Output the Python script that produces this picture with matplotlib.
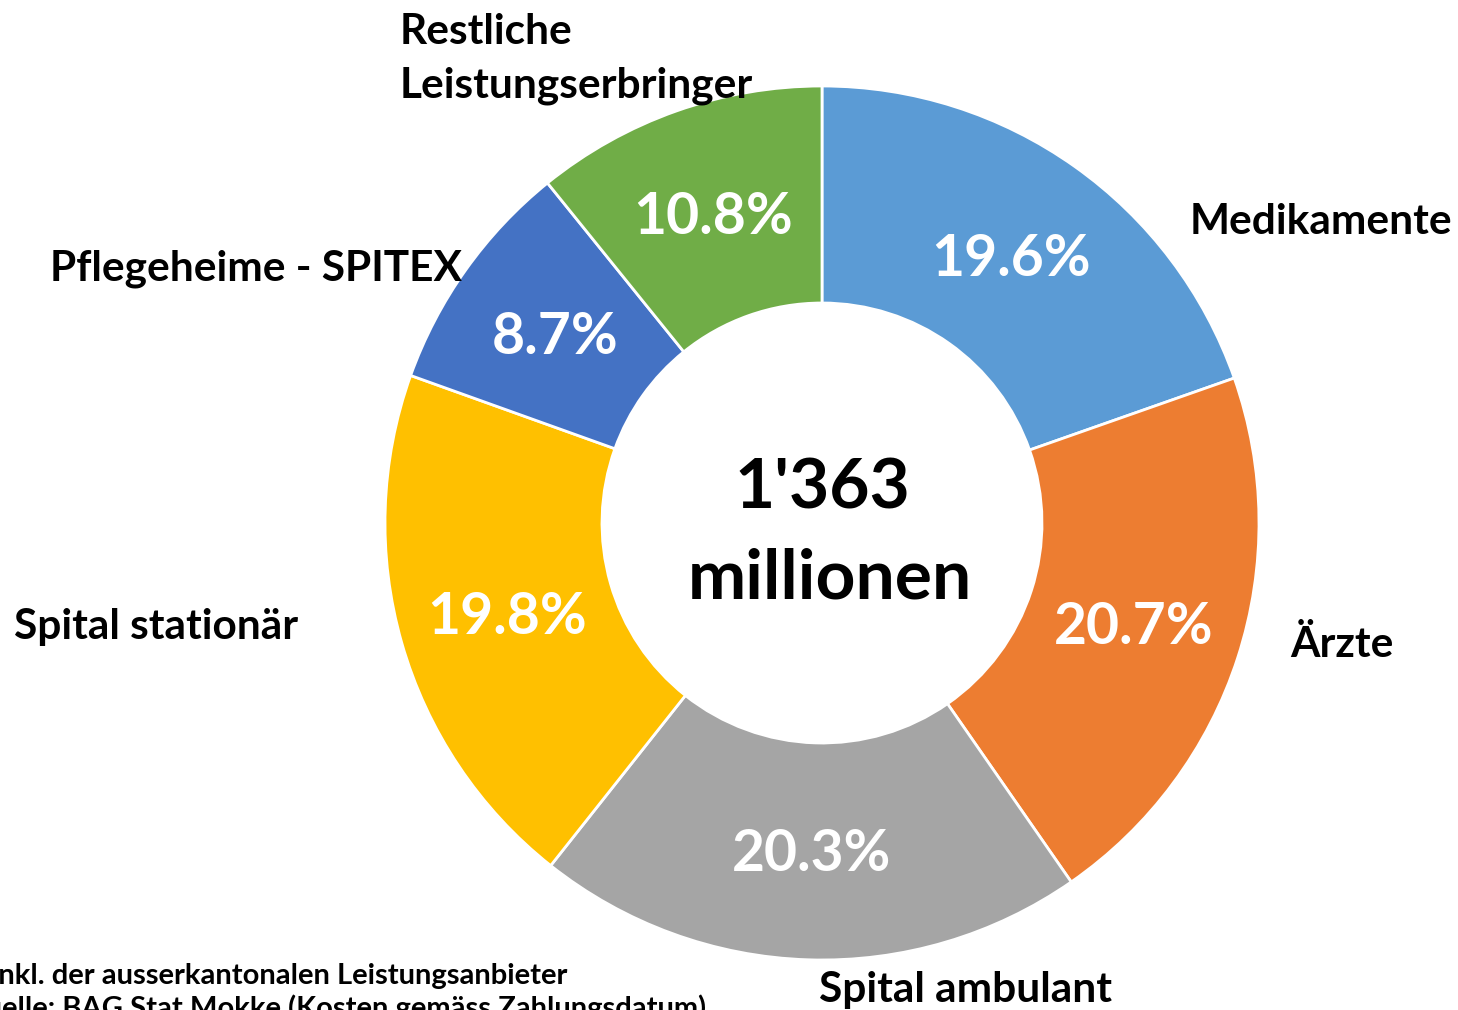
import matplotlib
matplotlib.use("Agg")
import matplotlib.pyplot as plt

categories = ["Medikamente", "Ärzte", "Spital ambulant", "Spital stationär",
              "Pflegeheime - SPITEX", "Restliche\nLeistungserbringer"]
shares = [19.6, 20.7, 20.3, 19.8, 8.7, 10.8]
colors = ["#5B9BD5", "#ED7D31", "#A5A5A5", "#FFC000", "#4472C4", "#70AD47"]
center_text = ["1'363", "millionen"]
footnotes = ["inkl. der ausserkantonalen Leistungsanbieter",
             "Quelle: BAG Stat Mokke (Kosten gemäss Zahlungsdatum)"]

FONT = "Lato"
W, H = 1458, 1010
fig = plt.figure(figsize=(W / 100, H / 100), dpi=100)
ax = fig.add_axes([0, 0, 1, 1])

cx, cy, R = 822, 487, 437
wedges, texts, autotexts = ax.pie(
    shares, colors=colors, startangle=90, counterclock=False,
    center=(cx, cy), radius=R,
    wedgeprops=dict(width=R - 220, edgecolor="white", linewidth=2),
    autopct=lambda p: f"{p:.1f}%", pctdistance=0.75,
    textprops=dict(color="white", fontsize=41, fontweight="bold", family=FONT),
)
for t, v in zip(autotexts, shares):
    t.set_text(f"{v:.1f}%")
    x, y = t.get_position()
    t.set_position((x, y - 4))

ax.set_xlim(0, W)
ax.set_ylim(0, H)
ax.set_aspect("equal")
ax.axis("off")

label_pos = [(1190, 788, "left"), (1290, 365, "left"), (966, 20, "center"),
             (14, 383, "left"), (50, 741, "left"), (400, 978, "left")]
for name, (x, y, ha) in zip(categories, label_pos):
    for i, line in enumerate(name.split("\n")):
        ax.text(x, y - 54 * i, line, ha=ha, va="center", fontsize=30.5,
                fontweight="bold", family=FONT, color="black")

ax.text(822, 521, center_text[0], ha="center", va="center", fontsize=50,
        fontweight="bold", family=FONT)
ax.text(830, 431, center_text[1], ha="center", va="center", fontsize=50,
        fontweight="bold", family=FONT)

ax.text(-9, 34, footnotes[0], ha="left", va="center", fontsize=21,
        fontweight="bold", family=FONT)
ax.text(-38, 2, footnotes[1], ha="left", va="center", fontsize=21,
        fontweight="bold", family=FONT)

fig.savefig("out.png", dpi=100)
